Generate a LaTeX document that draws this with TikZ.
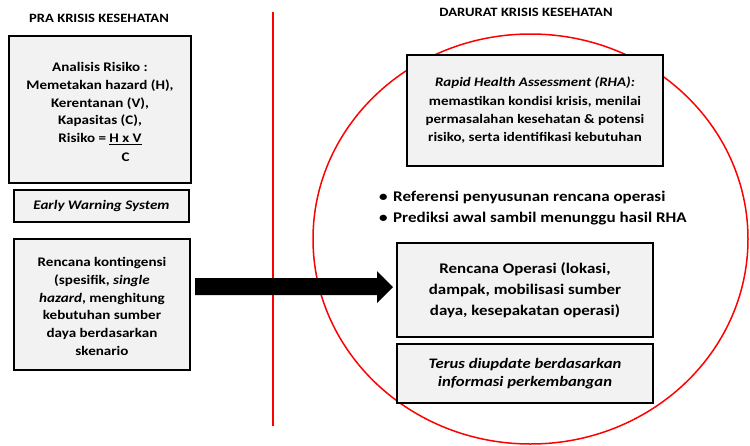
\documentclass[tikz,border=0pt]{standalone}
\usepackage{fontspec}
\setmainfont{Carlito}[FakeStretch=1.15]
\definecolor{boxgray}{HTML}{F2F2F2}
\definecolor{linered}{HTML}{FF0000}
\tikzset{
  panel/.style={draw=black, line width=1.4pt, fill=boxgray, align=center, inner sep=0pt},
  fsmall/.style={font=\fontsize{13.1}{17.7}\selectfont\bfseries},
  fmid/.style={font=\fontsize{13}{18.3}\selectfont\bfseries},
  fbul/.style={font=\fontsize{14.8}{21}\selectfont\bfseries},
  flarge/.style={font=\fontsize{14.7}{20.7}\selectfont\bfseries},
  fterus/.style={font=\fontsize{14.5}{18.4}\selectfont\bfseries\itshape},
  ftitle/.style={font=\fontsize{12.7}{15}\selectfont\bfseries},
}
\begin{document}
\begin{tikzpicture}[x=1pt,y=-1pt]
\useasboundingbox (0,0) rectangle (750,445);
% titles
\node[ftitle] (t1) at (99,18.5) {PRA KRISIS KESEHATAN};
\node[ftitle] (t2) at (526,12.5) {DARURAT KRISIS KESEHATAN};
% divider and circle
\draw[linered, line width=2.6pt] (273,12) coordinate (dtop) -- (273,426) coordinate (dbot);
\draw[linered, line width=1.5pt] (530.5,239) ellipse [x radius=217.5, y radius=205];
% left boxes
\node[panel, fsmall, minimum width=182pt, minimum height=147pt] (risk) at (100,109.5)
  {\rule{0pt}{19pt}Analisis Risiko :\\ Memetakan hazard (H),\\ Kerentanan (V),\\ Kapasitas (C),\\
   Risiko = \begin{tabular}[t]{@{}c@{}}\underline{H x V}\\[1pt] C\end{tabular}};
\node[panel, fsmall, minimum width=175pt, minimum height=32pt] (ews) at (101.5,206)
  {\itshape Early Warning System};
\node[panel, fsmall, minimum width=176pt, minimum height=131pt] (kont) at (102,304.5)
  {\rule{0pt}{13pt}Rencana kontingensi\\ (spesifik, \textit{single}\\ \textit{hazard}, menghitung\\ kebutuhan sumber\\ daya berdasarkan\\ skenario};
% right boxes
\node[panel, fmid, minimum width=256pt, minimum height=111pt] (rha) at (535,110.5)
  {\textit{Rapid Health Assessment (RHA):}\\ memastikan kondisi krisis, menilai\\ permasalahan kesehatan \& potensi\\ risiko, serta identifikasi kebutuhan};
\node[fbul, anchor=west, align=left, inner sep=0pt] (bul) at (378,208.5)
  {\makebox[15pt][l]{\hspace{1pt}\textbullet}Referensi penyusunan rencana operasi\\
   \makebox[15pt][l]{\hspace{1pt}\textbullet}Prediksi awal sambil menunggu hasil RHA};
\node[panel, flarge, minimum width=256pt, minimum height=94pt] (ops) at (525,290)
  {Rencana Operasi (lokasi,\\ dampak, mobilisasi sumber\\ daya, kesepakatan operasi)};
\node[panel, fterus, minimum width=256pt, minimum height=59pt] (terus) at (525,373.5)
  {Terus diupdate berdasarkan\\ informasi perkembangan};
% block arrow from the contingency plan to the operation plan
\coordinate (a0) at (195,286.5);
\coordinate (a1) at (393,287);
\fill[black] (195,278) -- (377,278) -- (377,271) -- (a1) -- (377,303) -- (377,295) -- (195,295) -- cycle;
\end{tikzpicture}
\end{document}
